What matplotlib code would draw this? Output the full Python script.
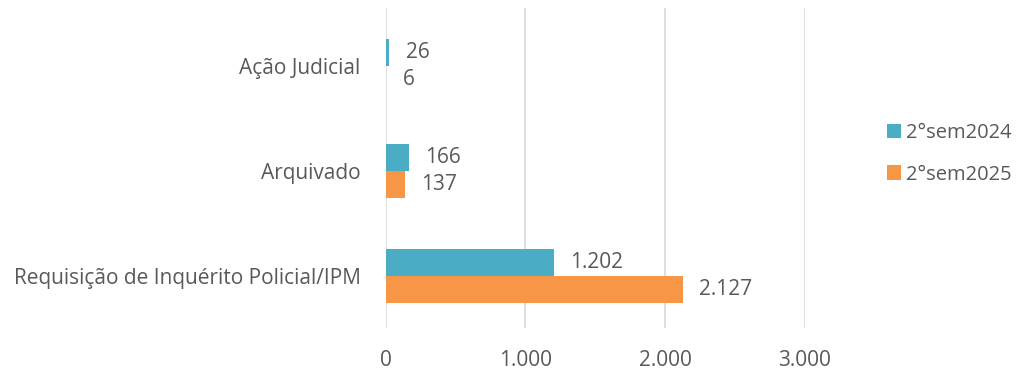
import matplotlib.pyplot as plt
import numpy as np
from matplotlib.ticker import FuncFormatter

categorias = ["Requisição de Inquérito Policial/IPM", "Arquivado", "Ação Judicial"]
series = ["2°sem2024", "2°sem2025"]
valores_2024 = [1202, 166, 26]
valores_2025 = [2127, 137, 6]
cores = ["#4BACC6", "#F79646"]

plt.rcParams['font.family'] = ['Open Sans', 'DejaVu Sans']
texto = "#595959"
fs = 15

fig = plt.figure(figsize=(10.2, 3.71), dpi=100)
ax = fig.add_axes([0.378, 0.116, 0.411, 0.862])

def milhar(v, pos=None):
    return f"{int(round(v)):,}".replace(",", ".")

y = np.arange(len(categorias))
h = 0.257
b1 = ax.barh(y + h / 2, valores_2024, height=h, color=cores[0], label=series[0], zorder=3)
b2 = ax.barh(y - h / 2, valores_2025, height=h, color=cores[1], label=series[1], zorder=3)

# rótulos de valor à direita de cada barra
for barras in (b1, b2):
    for bar in barras:
        w = bar.get_width()
        ax.annotate(milhar(w), (w, bar.get_y() + bar.get_height() / 2),
                    xytext=(12, 0), textcoords="offset points",
                    ha="left", va="center", fontsize=fs, color=texto)

ax.set_xlim(0, 3000)
ax.set_ylim(-0.495, 2.55)
ax.set_xticks([0, 1000, 2000, 3000])
ax.xaxis.set_major_formatter(FuncFormatter(milhar))
ax.set_yticks(y)
ax.set_yticklabels(categorias)
ax.tick_params(axis="both", length=0, labelsize=fs, colors=texto)
ax.tick_params(axis="y", pad=18)
ax.tick_params(axis="x", pad=16)
ax.grid(axis="x", color="#D9D9D9", linewidth=1.2, zorder=0)
for s in ax.spines.values():
    s.set_visible(False)

handles, labels = ax.get_legend_handles_labels()
fig.legend(handles, labels, loc="center left", bbox_to_anchor=(0.852, 0.585),
           frameon=False, fontsize=14.5, labelcolor=texto,
           handlelength=0.7, handleheight=0.7, handletextpad=0.25, labelspacing=1.05)

fig.savefig("out.png", dpi=100)
